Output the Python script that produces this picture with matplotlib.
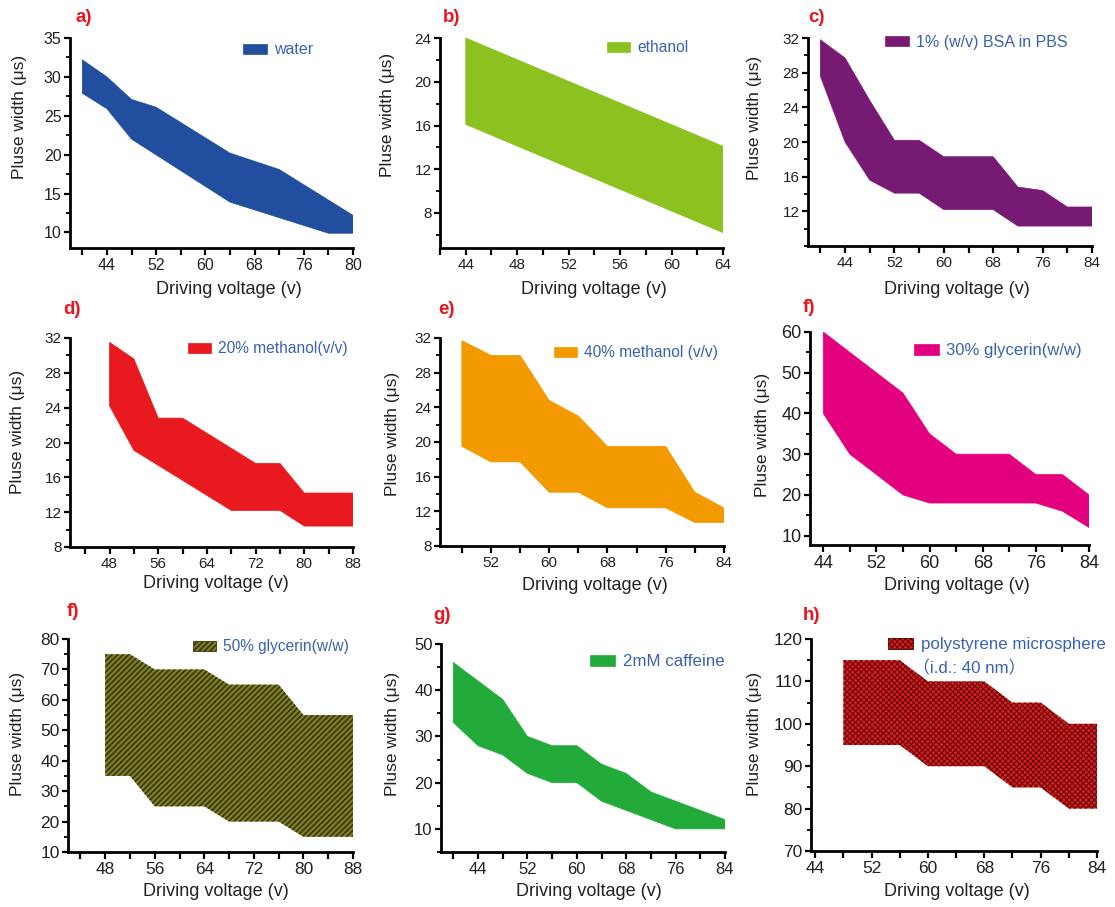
import numpy as np
import matplotlib
matplotlib.use("Agg")
import matplotlib.pyplot as plt
from matplotlib.patches import Patch
from matplotlib.ticker import FixedLocator, MultipleLocator

plt.rcParams['font.family'] = ['Liberation Sans', 'Noto Sans CJK SC', 'DejaVu Sans']

W, H = 1115, 907

# ---------------- data: driving voltage (V) vs. pulse-width window (us) ----------------
# a) water
a_x_up = [40, 44, 48, 52, 64, 72, 84]
a_y_up = [32.2, 30.0, 27.1, 26.1, 20.2, 18.1, 12.2]
a_x_lo = [40, 44, 48, 64, 80, 84]
a_y_lo = [27.9, 25.9, 22.0, 13.9, 9.9, 9.9]
a_xticks = [44, 52, 60, 68, 76, 84]
a_xticklabels = ['44', '52', '60', '68', '76', '80']
a_yticks = [10, 15, 20, 25, 30, 35]

# b) ethanol
b_x_up = [44, 64]
b_y_up = [24.0, 14.1]
b_x_lo = [44, 64]
b_y_lo = [16.1, 6.2]
b_xticks = [44, 48, 52, 56, 60, 64]
b_xticklabels = ['44', '48', '52', '56', '60', '64']
b_yticks = [8, 12, 16, 20, 24]

# c) 1% BSA in PBS
c_x_up = [40, 44, 48, 52, 56, 60, 68, 72, 76, 80, 84]
c_y_up = [31.8, 29.7, 24.8, 20.2, 20.2, 18.3, 18.3, 14.8, 14.4, 12.5, 12.5]
c_x_lo = [40, 44, 48, 52, 56, 60, 68, 72, 84]
c_y_lo = [27.6, 20.0, 15.6, 14.1, 14.1, 12.2, 12.2, 10.3, 10.3]
c_xticks = [44, 52, 60, 68, 76, 84]
c_xticklabels = ['44', '52', '60', '68', '76', '84']
c_yticks = [12, 16, 20, 24, 28, 32]

# d) 20% methanol
d_x_up = [48, 52, 56, 60, 72, 76, 80, 88]
d_y_up = [31.5, 29.6, 22.8, 22.8, 17.6, 17.6, 14.2, 14.2]
d_x_lo = [48, 52, 68, 76, 80, 88]
d_y_lo = [24.2, 19.1, 12.2, 12.2, 10.4, 10.4]
d_xticks = [48, 56, 64, 72, 80, 88]
d_xticklabels = ['48', '56', '64', '72', '80', '88']
d_yticks = [8, 12, 16, 20, 24, 28, 32]

# e) 40% methanol
e_x_up = [48, 52, 56, 60, 64, 68, 76, 80, 84]
e_y_up = [31.7, 30.0, 30.0, 24.8, 23.0, 19.5, 19.5, 14.2, 12.4]
e_x_lo = [48, 52, 56, 60, 64, 68, 76, 80, 84]
e_y_lo = [19.5, 17.7, 17.7, 14.2, 14.2, 12.4, 12.4, 10.7, 10.7]
e_xticks = [52, 60, 68, 76, 84]
e_xticklabels = ['52', '60', '68', '76', '84']
e_yticks = [8, 12, 16, 20, 24, 28, 32]

# f) 30% glycerin
f_x_up = [44, 56, 60, 64, 72, 76, 80, 84]
f_y_up = [60, 45, 35, 30, 30, 25, 25, 20]
f_x_lo = [44, 48, 56, 60, 76, 80, 84]
f_y_lo = [40, 30, 20, 18, 18, 16, 12]
f_xticks = [44, 52, 60, 68, 76, 84]
f_xticklabels = ['44', '52', '60', '68', '76', '84']
f_yticks = [10, 20, 30, 40, 50, 60]

# f) 50% glycerin
f2_x_up = [48, 52, 56, 64, 68, 76, 80, 88]
f2_y_up = [75, 75, 70, 70, 65, 65, 55, 55]
f2_x_lo = [48, 52, 56, 64, 68, 76, 80, 88]
f2_y_lo = [35, 35, 25, 25, 20, 20, 15, 15]
f2_xticks = [48, 56, 64, 72, 80, 88]
f2_xticklabels = ['48', '56', '64', '72', '80', '88']
f2_yticks = [10, 20, 30, 40, 50, 60, 70, 80]

# g) 2mM caffeine
g_x_up = [40, 48, 52, 56, 60, 64, 68, 72, 84]
g_y_up = [46, 38, 30, 28, 28, 24, 22, 18, 12]
g_x_lo = [40, 44, 48, 52, 56, 60, 64, 68, 76, 84]
g_y_lo = [33, 28, 26, 22, 20, 20, 16, 14, 10, 10]
g_xticks = [44, 52, 60, 68, 76, 84]
g_xticklabels = ['44', '52', '60', '68', '76', '84']
g_yticks = [10, 20, 30, 40, 50]

# h) polystyrene microsphere
h_x_up = [48, 56, 60, 68, 72, 76, 80, 84]
h_y_up = [115, 115, 110, 110, 105, 105, 100, 100]
h_x_lo = [48, 56, 60, 68, 72, 76, 80, 84]
h_y_lo = [95, 95, 90, 90, 85, 85, 80, 80]
h_xticks = [44, 52, 60, 68, 76, 84]
h_xticklabels = ['44', '52', '60', '68', '76', '84']
h_yticks = [70, 80, 90, 100, 110, 120]

panel_tags = ['a)', 'b)', 'c)', 'd)', 'e)', 'f)', 'f)', 'g)', 'h)']
legend_labels = ['water', 'ethanol', '1% (w/v) BSA in PBS', '20% methanol(v/v)',
                 '40% methanol (v/v)', '30% glycerin(w/w)', '50% glycerin(w/w)',
                 '2mM caffeine', 'polystyrene microsphere']
legend_sublabel = '\uff08i.d.: 40 nm\uff09'

# ---------------- layout / style ----------------
panels = [
    dict(xu=a_x_up, yu=a_y_up, xl=a_x_lo, yl=a_y_lo, xt=a_xticks, xtl=a_xticklabels, yt=a_yticks,
         box=(70, 38, 353, 248), xlim=(38, 84), ylim=(8, 35), xminor=[40, 48, 56, 64, 72, 80], ymin=2.5,
         color='#214e9e', hatch=None, hcol=None, hlw=None, tag=(76, 18), leg=(243, 50), fs_leg=11.5,
         fs_tick=11.5, ylab=(20, 117), xlab=(229, 290)),
    dict(xu=b_x_up, yu=b_y_up, xl=b_x_lo, yl=b_y_lo, xt=b_xticks, xtl=b_xticklabels, yt=b_yticks,
         box=(440, 38, 723, 248), xlim=(42, 64), ylim=(4.8, 24), xminor=[42, 46, 50, 54, 58, 62], ymin=2,
         color='#8cc21f', hatch=None, hcol=None, hlw=None, tag=(443, 18), leg=(607, 48), fs_leg=11.2,
         fs_tick=11, ylab=(388, 115), xlab=(594, 290)),
    dict(xu=c_x_up, yu=c_y_up, xl=c_x_lo, yl=c_y_lo, xt=c_xticks, xtl=c_xticklabels, yt=c_yticks,
         box=(808, 38, 1092, 246), xlim=(38, 84), ylim=(8, 32), xminor=[40, 48, 56, 64, 72, 80], ymin=2,
         color='#771a74', hatch=None, hcol=None, hlw=None, tag=(808, 18), leg=(885, 42), fs_leg=11.5,
         fs_tick=11, ylab=(755, 118), xlab=(957, 290)),
    dict(xu=d_x_up, yu=d_y_up, xl=d_x_lo, yl=d_y_lo, xt=d_xticks, xtl=d_xticklabels, yt=d_yticks,
         box=(70, 338, 353, 547), xlim=(41.5, 88), ylim=(8, 32), xminor=[44, 52, 60, 68, 76, 84], ymin=2,
         color='#e8191f', hatch=None, hcol=None, hlw=None, tag=(63, 310), leg=(188, 349), fs_leg=11.2,
         fs_tick=11, ylab=(18, 432), xlab=(216, 584)),
    dict(xu=e_x_up, yu=e_y_up, xl=e_x_lo, yl=e_y_lo, xt=e_xticks, xtl=e_xticklabels, yt=e_yticks,
         box=(440, 338, 724, 546), xlim=(45, 84), ylim=(8, 32), xminor=[48, 56, 64, 72, 80], ymin=2,
         color='#f39a00', hatch=None, hcol=None, hlw=None, tag=(438, 310), leg=(554, 353), fs_leg=11.2,
         fs_tick=11, ylab=(393, 434), xlab=(595, 585)),
    dict(xu=f_x_up, yu=f_y_up, xl=f_x_lo, yl=f_y_lo, xt=f_xticks, xtl=f_xticklabels, yt=f_yticks,
         box=(810, 332, 1089, 545), xlim=(42, 84), ylim=(7.7, 60), xminor=[48, 56, 64, 72, 80], ymin=5,
         color='#e3007e', hatch=None, hcol=None, hlw=None, tag=(803, 308), leg=(914, 351), fs_leg=12,
         fs_tick=13, ylab=(762, 435), xlab=(957, 586)),
    dict(xu=f2_x_up, yu=f2_y_up, xl=f2_x_lo, yl=f2_y_lo, xt=f2_xticks, xtl=f2_xticklabels, yt=f2_yticks,
         box=(68, 639, 353, 852), xlim=(42, 88), ylim=(10, 80), xminor=[44, 52, 60, 68, 76, 84], ymin=5,
         color='#808024', hatch='//////', hcol='#3a3a12', hlw=1.3, tag=(67, 612), leg=(193, 647),
         fs_leg=11.2, fs_tick=12.5, ylab=(18, 734), xlab=(216, 892)),
    dict(xu=g_x_up, yu=g_y_up, xl=g_x_lo, yl=g_y_lo, xt=g_xticks, xtl=g_xticklabels, yt=g_yticks,
         box=(441, 644, 725, 852), xlim=(38, 84), ylim=(5, 50), xminor=[40, 48, 56, 64, 72, 80], ymin=5,
         color='#22ab3a', hatch=None, hcol=None, hlw=None, tag=(433, 615), leg=(590, 662), fs_leg=12.2,
         fs_tick=12, ylab=(393, 734), xlab=(589, 891)),
    dict(xu=h_x_up, yu=h_y_up, xl=h_x_lo, yl=h_y_lo, xt=h_xticks, xtl=h_xticklabels, yt=h_yticks,
         box=(811, 639, 1097, 851), xlim=(43.4, 84), ylim=(70, 120), xminor=[48, 56, 64, 72, 80], ymin=5,
         color='#d81c1c', hatch='xxxxxx', hcol='#4a0000', hlw=0.6, tag=(803, 615), leg=(888, 645),
         fs_leg=12.2, fs_tick=12.5, ylab=(755, 734), xlab=(957, 891)),
]

TEXT_BLUE = '#3a62b0'
TAG_RED = '#e8141e'

fig = plt.figure(figsize=(W / 100, H / 100), dpi=100)

for i, p in enumerate(panels):
    l, t, r, b = p['box']
    ax = fig.add_axes([l / W, 1 - b / H, (r - l) / W, (b - t) / H])

    def to_ax(px, py, l=l, t=t, r=r, b=b):
        return (px - l) / (r - l), (b - py) / (b - t)

    xs = np.concatenate([p['xu'], p['xl'][::-1]])
    ys = np.concatenate([p['yu'], p['yl'][::-1]])
    if p['hatch']:
        plt.rcParams['hatch.linewidth'] = p['hlw']
        ax.fill(xs, ys, facecolor=p['color'], edgecolor=p['hcol'], hatch=p['hatch'], linewidth=0)
        handle = Patch(facecolor=p['color'], edgecolor=p['hcol'], hatch=p['hatch'], linewidth=0.6)
    else:
        ax.fill(xs, ys, facecolor=p['color'], edgecolor=p['color'], linewidth=0.5)
        handle = Patch(facecolor=p['color'], edgecolor=p['color'], linewidth=0.5)

    ax.set_xlim(*p['xlim'])
    ax.set_ylim(*p['ylim'])
    ax.xaxis.set_major_locator(FixedLocator(p['xt']))
    ax.set_xticklabels(p['xtl'])
    ax.xaxis.set_minor_locator(FixedLocator(p['xminor']))
    ax.yaxis.set_major_locator(FixedLocator(p['yt']))
    ax.yaxis.set_minor_locator(MultipleLocator(p['ymin']))

    for s in ('top', 'right'):
        ax.spines[s].set_visible(False)
    for s in ('left', 'bottom'):
        ax.spines[s].set_linewidth(2.0)
    ax.tick_params(axis='both', which='major', direction='out', width=1.6, colors='black',
                   labelsize=p['fs_tick'])
    ax.tick_params(axis='x', which='major', length=5, pad=2.5)
    ax.tick_params(axis='x', which='minor', length=5, width=1.6, direction='out')
    ax.tick_params(axis='y', which='major', length=4, pad=2)
    ax.tick_params(axis='y', which='minor', length=3, width=1.3, direction='out')
    for lab in ax.get_xticklabels() + ax.get_yticklabels():
        lab.set_color('#222222')

    ax.set_xlabel('Driving voltage (v)', fontsize=13, ha='center', va='center', color='#222222')
    ax.xaxis.set_label_coords(*to_ax(*p['xlab']))
    ax.set_ylabel('Pluse width (\u03bcs)', fontsize=12.5, ha='center', va='center', color='#222222')
    ax.yaxis.set_label_coords(*to_ax(*p['ylab']))

    ax.legend([handle], [legend_labels[i]], loc='center left',
              bbox_to_anchor=to_ax(*p['leg']), frameon=False, borderpad=0, borderaxespad=0,
              handlelength=1.5, handleheight=0.65, handletextpad=0.45,
              fontsize=p['fs_leg'], labelcolor=TEXT_BLUE)

    if i == 8:
        ax.text(*to_ax(913, 668), legend_sublabel, transform=ax.transAxes, color=TEXT_BLUE,
                fontsize=p['fs_leg'], ha='left', va='center')

    fig.text(p['tag'][0] / W, 1 - p['tag'][1] / H, panel_tags[i], color=TAG_RED,
             fontsize=13.5, fontweight='bold', ha='left', va='center')

fig.savefig('out.png', dpi=100, facecolor='white')
